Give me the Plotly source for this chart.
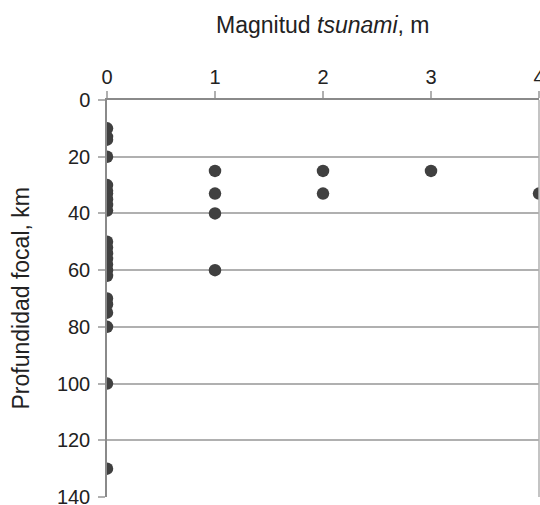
import plotly.graph_objects as go

# Data: tsunami magnitude (m) vs focal depth (km)
magnitude = [0]*23 + [1, 1, 1, 1, 2, 2, 3, 4]
depth = [10, 13, 14, 20, 30, 32, 33, 35, 37, 39, 50, 52, 54, 56, 58, 60, 62,
         70, 72, 75, 80, 100, 130,
         25, 33, 40, 60, 25, 33, 25, 33]

x_ticks = [0, 1, 2, 3, 4]
y_ticks = [0, 20, 40, 60, 80, 100, 120, 140]

x_title = "Magnitud <i>tsunami</i>, m"
y_title = "Profundidad focal, km"

FONT = "Liberation Sans, Arial, sans-serif"
L, R, T, B = 107, 1, 100, 8
W, H = 540, 505
PW, PH = W - L - R, H - T - B

fig = go.Figure()
fig.add_trace(go.Scatter(
    x=magnitude, y=depth, mode="markers",
    marker=dict(size=12.5, color="#404040", line=dict(width=0)),
    cliponaxis=True, showlegend=False,
))

fig.update_layout(
    width=W, height=H,
    margin=dict(l=L, r=R, t=T, b=B),
    paper_bgcolor="white", plot_bgcolor="white",
    font=dict(family=FONT, size=20, color="#222222"),
    xaxis=dict(
        side="top", range=[0, 4], tickvals=x_ticks, automargin=False,
        showgrid=False, zeroline=False,
        showline=True, linecolor="#8a8a8a", linewidth=1.5,
        ticks="outside", ticklen=7, tickcolor="#b0b0b0", tickwidth=1.5,
        tickfont=dict(size=20), ticklabelstandoff=-1, ticklabeloverflow="allow",
    ),
    yaxis=dict(
        range=[140, 0], tickvals=y_ticks, automargin=False,
        showgrid=True, gridcolor="#b0b0b0", gridwidth=1.5,
        zeroline=False,
        showline=True, linecolor="#8a8a8a", linewidth=1.5,
        ticks="outside", ticklen=7, tickcolor="#b0b0b0", tickwidth=1.5,
        tickfont=dict(size=20), ticklabelstandoff=4, ticklabeloverflow="allow",
    ),
    annotations=[
        dict(text=x_title, xref="paper", yref="paper", x=0.5, y=1 + (T - 25) / PH,
             xanchor="center", yanchor="middle", showarrow=False,
             font=dict(size=23)),
        dict(text=y_title, xref="paper", yref="paper", x=(20 - L) / PW, y=0.5,
             xanchor="center", yanchor="middle", textangle=-90, showarrow=False,
             font=dict(size=23)),
    ],
)

# right border line of plot area
fig.add_shape(type="line", xref="paper", yref="paper", x0=1, x1=1, y0=0, y1=1,
              line=dict(color="#b0b0b0", width=1.5))

fig.write_html("out.html", config={"displayModeBar": False},
               post_script="document.body.style.margin='0';")
